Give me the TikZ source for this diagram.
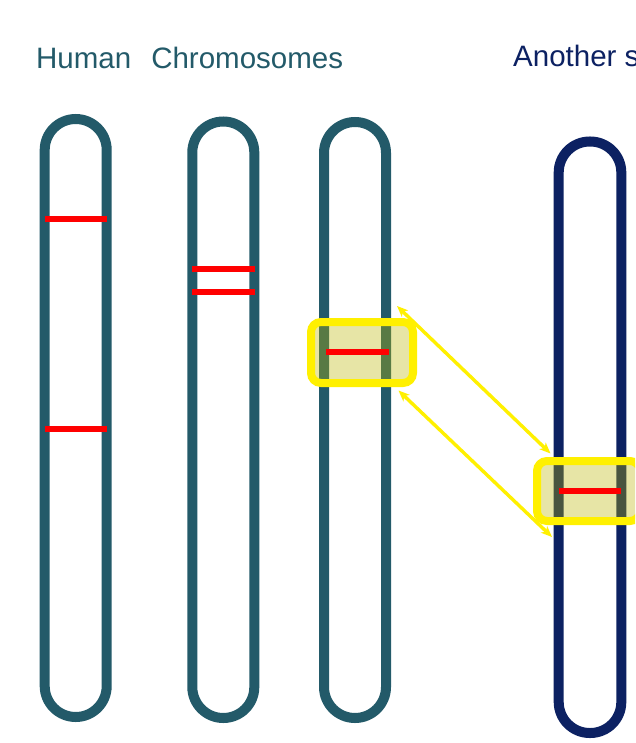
\documentclass[tikz,border=0pt]{standalone}
\usepackage{fontspec}
\setmainfont{Liberation Sans}
\usetikzlibrary{arrows.meta}
\definecolor{teal1}{RGB}{35,90,105}
\definecolor{navy1}{RGB}{12,33,98}
\definecolor{yel}{RGB}{255,240,0}
\definecolor{olive}{RGB}{189,183,0}
\definecolor{red1}{RGB}{255,0,0}
\tikzset{
  chromo/.style={line width=10pt, rounded corners=31pt},
  band/.style={draw=red1, line width=6pt},
  hibox/.style={draw=yel, line width=8pt, fill=olive, fill opacity=0.35, draw opacity=1,
    rounded corners=10pt, inner sep=0pt},
  link/.style={draw=yel, line width=3.4pt, {Stealth[length=11pt,width=9pt,inset=3pt]}-{Stealth[length=11pt,width=9pt,inset=3pt]}},
  title/.style={font=\fontsize{29.5}{34}\selectfont, anchor=base west, inner sep=0pt}
}
\begin{document}
\begin{tikzpicture}[x=1pt,y=-1pt]
\useasboundingbox (0,0) rectangle (635,743);
\clip (0,0) rectangle (635,743);
\fill[white] (0,0) rectangle (635,743);
% titles
\node[title, text=teal1] (t1) at (36,68.5) {Human\hspace{20pt}Chromosomes};
\node[title, text=navy1] (t2) at (513,67) {Another s};
% chromosomes
\draw[chromo, teal1] (44.7,119) rectangle (106.7,717);
\draw[chromo, teal1] (192.3,121.5) rectangle (254.3,718);
\draw[chromo, teal1] (324,122) rectangle (386,718);
\draw[chromo, navy1] (558.7,141.5) rectangle (621.3,733);
% highlight boxes
\node[hibox, minimum width=102pt, minimum height=61pt] (b1) at (362,352.5) {};
\node[hibox, minimum width=103pt, minimum height=60pt] (b2) at (588.5,491) {};
% red bands
\draw[band] (44.5,219) -- (107,219);
\draw[band] (44.5,428.5) -- (107,428.5);
\draw[band] (192,268.7) -- (255,268.7);
\draw[band] (192,291.7) -- (255,291.7);
\draw[band] (326,352) -- (389,352);
\draw[band] (558.7,490.7) -- (621,490.7);
% arrows
\coordinate (a1s) at (397,306);
\coordinate (a1e) at (550.5,453.5);
\coordinate (a2s) at (398.5,390.5);
\coordinate (a2e) at (552,537);
\draw[link] (a1s) -- (a1e);
\draw[link] (a2s) -- (a2e);
\end{tikzpicture}
\end{document}
